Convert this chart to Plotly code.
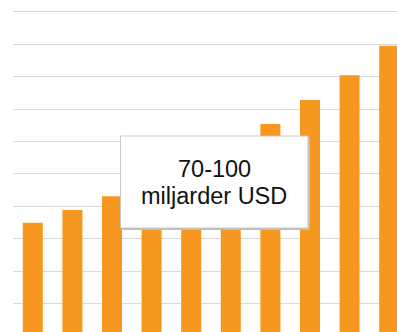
import plotly.graph_objects as go

# Data (bars 4-6 are hidden behind the box, estimated)
categories = ["1", "2", "3", "4", "5", "6", "7", "8", "9", "10"]
values = [34.9, 38.9, 43.1, 46.0, 50.0, 57.0, 65.4, 72.8, 80.5, 89.6]
box_lines = ["70-100", "miljarder USD"]

W, H = 397, 332
ML = 13
PW = W - ML
FS = 23.5

def px_x(x):
    return (x - ML) / PW

def px_y(y):
    return 1 - y / H

fig = go.Figure()
fig.add_trace(go.Bar(
    x=categories, y=values,
    marker=dict(color="#F7971F", line=dict(width=0)),
))

# box geometry in pixels
bx0, bx1, by0, by1 = 120.5, 308.0, 136.0, 228.0
baselines = [176.7, 204.3]
cx = (bx0 + bx1) / 2

annotations = []
for txt, bl in zip(box_lines, baselines):
    annotations.append(dict(
        text=txt, xref="paper", yref="paper",
        x=px_x(cx), y=px_y(bl - 0.3465 * FS),
        xanchor="center", yanchor="middle", showarrow=False,
        font=dict(family="Liberation Sans, Arial, sans-serif", size=FS, color="#111111")))

fig.update_layout(
    width=W, height=H,
    margin=dict(l=ML, r=0, t=0, b=0, pad=0),
    paper_bgcolor="white", plot_bgcolor="white",
    bargap=0.495,
    showlegend=False,
    xaxis=dict(type="category", range=[-0.5, 9.197], showticklabels=False,
               showgrid=False, zeroline=False, showline=False, ticks=""),
    yaxis=dict(range=[1.2, 103.7], dtick=10, tick0=0, showticklabels=False,
               showgrid=True, gridcolor="#d9d9d9", gridwidth=1,
               zeroline=False, showline=False, ticks=""),
    shapes=[
        dict(type="rect", xref="paper", yref="paper", layer="above",
             x0=px_x(bx0 + 2), x1=px_x(bx1 + 2), y0=px_y(by1 + 2), y1=px_y(by0 + 2),
             fillcolor="#bdbdbd", line=dict(width=0)),
        dict(type="rect", xref="paper", yref="paper", layer="above",
             x0=px_x(bx0), x1=px_x(bx1), y0=px_y(by1), y1=px_y(by0),
             fillcolor="white", line=dict(color="#c8c8c8", width=1)),
    ],
    annotations=annotations,
)

fig.write_html("out.html")
